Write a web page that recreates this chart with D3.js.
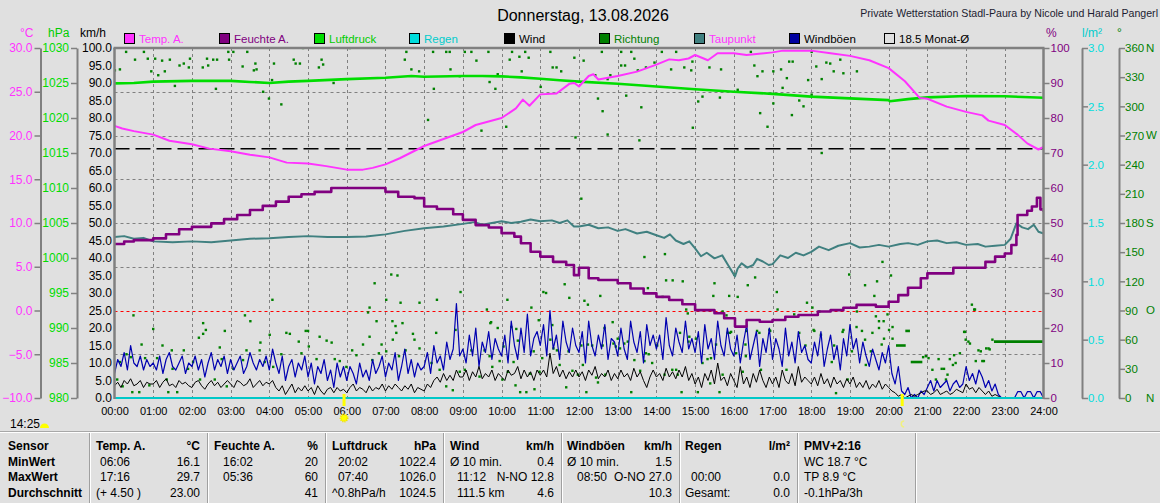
<!DOCTYPE html>
<html>
<head>
<meta charset="utf-8">
<title>Wetterstation Stadl-Paura</title>
<script src="https://cdn.jsdelivr.net/npm/d3@7/dist/d3.min.js"></script>
<style>
  body { margin:0; background:#e0e0e0; }
  svg { display:block; font-family:"Liberation Sans", Arial, sans-serif; }
</style>
</head>
<body>
<script>
// ---------- tick labels ----------
var hourTicks  = [0,1,2,3,4,5,6,7,8,9,10,11,12,13,14,15,16,17,18,19,20,21,22,23,24];
var tempTicks  = [-10,-5,0,5,10,15,20,25,30];
var pressTicks = [980,985,990,995,1000,1005,1010,1015,1020,1025,1030];
var speedTicks = [0,5,10,15,20,25,30,35,40,45,50,55,60,65,70,75,80,85,90,95,100];
var humTicks   = [0,10,20,30,40,50,60,70,80,90,100];
var rainTicks  = [0,0.5,1,1.5,2,2.5,3];
var dirTicks   = [0,30,60,90,120,150,180,210,240,270,300,330,360];
var dirLetters = [[0,"N"],[90,"O"],[180,"S"],[270,"W"],[360,"N"]];
var gridTemps  = [-5,5,10,15,20,25];
var frostTemp  = 0;
var monthAvg   = 18.5;
var sunTimes   = [5.93, 20.35];   // Sonnenaufgang 05:56, Sonnenuntergang 20:21
var dayLength  = "14:25";

// ---------- series: [Stunde, Wert] ----------
var tempData = [[0,21.1],[0.2,20.8],[0.5,20.5],[1,20.1],[1.42,19.4],[2,19.0],[2.45,18.5],[3,18.2],[3.5,17.8],[4,17.5],[4.45,16.9],[5,16.8],[5.47,16.5],[6,16.1],[6.42,16.1],[6.67,16.3],[7,16.7],[7.37,17.4],[8,18.8],[8.5,19.6],[9,20.4],[9.33,21.2],[10,22.0],[10.37,23.1],[10.55,24.1],[10.72,23.4],[11,24.7],[11.42,24.8],[11.75,25.9],[11.88,26.0],[12,25.6],[12.25,26.8],[12.37,27.0],[12.5,26.4],[13,26.8],[13.5,27.3],[14,28.1],[14.33,28.7],[14.58,28.6],[14.83,28.8],[15,29.2],[15.33,28.6],[15.58,29.4],[16,29.4],[16.33,29.2],[17,29.5],[17.27,29.7],[18,29.7],[18.5,29.4],[19,29.1],[19.5,28.6],[20,27.7],[20.42,26.2],[20.8,24.3],[21,24.2],[21.5,23.3],[22,22.7],[22.42,22.3],[22.58,21.7],[23,21.2],[23.33,20.1],[23.58,19.1],[23.87,18.4],[24,18.7]];

var humData = [[0,44.0],[0.25,44.7],[0.5,45.1],[1,45.6],[1.33,46.8],[1.67,48.2],[2,48.9],[2.5,49.9],[2.83,51.1],[3.17,52.3],[3.5,53.7],[3.83,54.9],[4.17,56.1],[4.5,57.5],[4.83,58.2],[5.17,58.9],[5.6,60],[6.9,60],[7,58.9],[7.33,57.5],[7.75,57.1],[8,54.7],[8.33,54.0],[8.75,52.5],[9,50.9],[9.33,49.4],[9.67,48.7],[10,47.1],[10.33,46.1],[10.5,44.2],[10.75,41.8],[11,40.4],[11.33,38.9],[11.67,38.0],[11.87,35.1],[12,37.2],[12.25,34.2],[12.5,33.7],[13,32.8],[13.33,31.3],[13.67,29.9],[14,28.9],[14.33,28.0],[14.67,26.8],[15,25.1],[15.5,24.2],[15.75,22.8],[16.03,20.4],[16.33,22.3],[16.67,21.8],[17,22.3],[17.33,23.2],[17.67,23.7],[18,23.7],[18.17,24.7],[18.5,25.1],[18.83,25.8],[19.17,26.6],[19.67,26.1],[20,27.5],[20.25,29.4],[20.5,31.5],[20.83,34.2],[21,35.6],[21.33,35.6],[21.67,37.2],[22.25,37.2],[22.5,38.9],[22.75,40.4],[23,41.3],[23.17,43.7],[23.3,46.6],[23.33,52.3],[23.58,53.5],[23.7,54.7],[23.83,57.2],[23.92,53.9],[24,53.2]];

var pressData = [[0,1024.95],[0.5,1025.0],[1,1025.2],[2,1025.3],[3,1025.3],[3.5,1025.15],[4,1025.0],[4.5,1025.2],[5,1025.3],[6,1025.55],[7,1025.75],[7.67,1026.0],[8,1025.9],[9,1026.0],[9.5,1026.0],[10,1025.95],[10.5,1025.8],[11,1025.6],[11.5,1025.4],[12,1025.2],[13,1024.9],[14,1024.5],[15,1024.1],[16,1023.75],[17,1023.45],[18,1023.05],[19,1022.8],[20,1022.55],[20.03,1022.4],[20.5,1022.7],[21,1022.95],[22,1023.15],[23,1023.1],[24,1022.9]];

var dewData = [[0,8.4],[0.25,8.5],[0.5,8.2],[0.75,8.3],[1,7.9],[1.5,7.8],[2,7.9],[2.5,7.8],[3,8.0],[3.5,8.2],[4,8.25],[4.5,8.4],[5,8.5],[5.5,8.4],[6,8.4],[6.5,8.45],[7,8.7],[7.5,9.1],[8,9.4],[8.5,9.6],[9,9.9],[9.3,10.1],[9.5,9.8],[10,10.2],[10.25,10.0],[10.5,10.15],[10.75,10.4],[11,10.2],[11.3,10.3],[11.5,10.0],[11.7,10.3],[11.87,9.6],[12,9.6],[12.25,9.8],[12.5,9.4],[12.75,9.5],[13,9.1],[13.2,9.3],[13.5,8.8],[13.75,9.0],[14,8.6],[14.2,8.3],[14.35,8.7],[14.5,8.0],[14.7,7.6],[14.85,7.9],[15,7.1],[15.15,6.2],[15.3,6.6],[15.5,5.96],[15.7,6.3],[15.85,5.2],[16.03,3.9],[16.1,4.8],[16.2,5.4],[16.35,4.9],[16.5,5.2],[16.6,5.9],[16.75,5.6],[16.9,5.2],[17,5.3],[17.2,6.3],[17.4,6.0],[17.6,6.6],[17.8,6.3],[18,6.7],[18.2,7.3],[18.45,6.9],[18.7,7.4],[19,7.7],[19.25,7.2],[19.5,7.3],[19.75,7.5],[20,7.3],[20.3,7.6],[20.5,7.7],[20.75,7.5],[21,7.9],[21.25,8.0],[21.5,7.7],[21.75,7.8],[22,7.5],[22.3,7.6],[22.5,7.3],[22.75,7.4],[23,7.5],[23.15,8.2],[23.3,9.96],[23.45,9.5],[23.6,9.3],[23.75,9.8],[23.87,9.0],[24,8.8]];

var rainData = [[0,0],[24,0]];

// Wind und Böen, alle 5 Minuten (12 Werte je Stunde), km/h
var gustData = [
  7,11,9,13,8,15,10,9,12,8,11,9,
  10,8,12,7,11,13,9,8,10,12,7,10,
  9,12,8,11,6,10,13,8,11,9,12,7,
  11,8,10,12,7,9,13,10,8,11,9,12,
  8,14,10,7,12,5,9,11,6,10,8,12,
  6,10,4,9,7,11,5,8,3,10,6,9,
  5,9,7,4,10,6,8,5,11,7,9,12,
  6,10,8,13,5,9,14,7,11,6,10,8,
  9,13,7,15,10,12,8,16,11,14,27,12,
  14,10,18,12,20,9,16,13,19,11,17,14,
  12,18,10,22,15,11,20,13,24,12,17,19,
  15,21,12,25,14,18,11,22,16,13,20,15,
  13,19,10,22,15,12,18,14,21,11,17,16,
  12,20,14,11,22,16,13,19,10,21,15,18,
  14,18,11,23,15,12,20,16,13,22,14,17,
  13,19,10,21,14,17,11,22,15,12,20,14,
  12,18,10,16,21,11,15,19,9,17,13,20,
  11,17,14,9,20,12,16,10,19,13,15,11,
  10,16,12,19,9,14,18,11,15,8,17,12,
  21,14,17,10,16,12,9,14,11,8,13,10,
  15,7,4,9,2,1,3,0,1,0,2,1,
  3,5,2,5,3,4,5,2,4,5,3,4,
  9,5,7,4,8,6,3,5,2,4,1,0,
  0,0,0,0,1.8,1.8,0,1.8,1.8,0,1.8,1.8,
  0];
var windData = [
  3.5,4.5,3,5,4,5.5,3.5,4,5,3,4.5,4,
  4,5,3,4.5,5.5,3.5,4,3,5,4,4.5,3.5,
  3,4.5,5,3.5,2.5,4,5,3.5,4.5,3,4,5,
  4,3,5,4.5,3.5,4,5.5,3,4,5,3.5,4.5,
  4,5,3,2,3.5,1,2.5,4,1.5,3,2,3.5,
  2,3,1,3.5,2,1,2.5,3,1.5,3,2,2.5,
  1.5,3,4,2,3,2.5,1.5,3.5,2,3,2.5,4,
  2,3.5,2.5,4,3,2,3.5,2.5,4,1.5,3,2.5,
  2,4,3,5,6,4.5,7,5,6.5,5,8,6,
  6,8,5,7.5,6,9,5.5,7,6,8,5,7,
  6,5,8,6.5,7,9,5.5,8,6,7.5,5,8,
  6.5,8,6,12.8,7,9,6,8,5.5,7.5,6,8,
  6,7.5,5,8,6.5,9,5.5,7,6,8,5,7,
  5.5,8,6,7,5,8.5,6,7.5,5,3,6,8,
  6,7,5,8.5,6,7.5,5.5,8,6,9,5,7,
  4,6,3,7,5,8,4,10,5,6,3.5,7,
  5,3,9,4,6,3,7,4.5,8,5,3,6,
  4,6,3,8,5,4,7,3.5,9,4.5,6,5,
  4,6,3.5,7,4,5.5,3,6,4,5,3,5.5,
  4,6,3,4.5,3,5,2.5,4,3,5,2.5,4,
  3,2,1.5,0.5,1,0,0.5,1,0.5,1,1.5,2,
  2,1,1.5,2.5,1,1.5,2,1,1.5,2.5,2,1.5,
  4,2.5,3,1.5,3,2,1,2,0.5,1,0.5,0,
  0,0,0,0,0,0,0,0,0,0,0,0,
  0];

// Windrichtung: [Stunde, Grad]
var dirData = [
  [0.01,337],[0.14,338],[0.30,356],[0.53,348],[0.76,356],[0.86,349],[0.95,336],[1.05,349],[1.13,332],[1.23,347],[1.30,336],[1.43,348],[1.56,321],[1.68,342],[1.79,344],[1.92,340],[1.95,349],[2.28,340],[2.39,349],[2.42,342],[2.55,348],[2.62,318],[2.65,348],[2.94,356],[2.96,348],[3.07,356],[3.31,341],[3.43,356],[3.60,337],[3.64,344],[3.67,338],[3.84,315],[3.99,308],[4.07,327],[4.12,344],[4.31,302],[4.63,348],[4.68,344],[4.79,344],[4.87,360],[5.28,340],[5.35,348],[5.39,343],[5.66,324],[6.08,360],[7.50,348],[7.54,356],[7.67,338],[7.87,336],[8.10,286],[8.23,356],[8.25,318],[8.57,356],[8.66,356],[8.68,338],[8.92,331],[9.05,356],[9.22,356],[9.35,347],[9.48,275],[9.66,356],[9.69,325],[9.84,318],[9.90,333],[10.12,279],[10.21,348],[10.27,356],[10.46,351],[10.52,336],[10.61,356],[10.70,350],[11.01,320],[11.26,356],[11.32,340],[11.42,340],[11.54,336],[11.88,350],[11.91,268],
  [12.06,205],[12.12,347],[12.42,332],[12.49,308],[12.59,356],[12.61,295],[12.74,328],[12.74,271],[12.81,332],[13.09,356],[13.09,342],[13.19,342],[13.22,311],[13.35,356],[13.43,349],[13.52,337],[13.56,265],[13.61,299],[13.73,340],[13.95,345],[14.14,356],[14.38,338],[14.51,356],[14.72,340],[14.90,337],[14.93,346],[14.94,278],[15.08,305],[15.19,310],[15.37,340],[15.64,309],[15.67,338],[16.10,317],[16.44,356],[16.53,342],[16.61,331],[16.68,293],[16.74,336],[16.87,279],[17.02,336],[17.02,303],[17.22,338],[17.26,319],[17.37,329],[17.43,346],[17.50,291],[17.52,346],[17.69,306],[17.80,300],[17.92,327],[18.01,356],[18.01,312],[18.13,341],[18.27,328],[18.27,252],[18.39,345],[18.49,344],[18.58,336],[18.75,348],[18.83,334],[19.18,336],
  [0.07,19],[0.14,37],[0.21,12],[0.31,45],[0.42,42],[0.46,6],[0.49,85],[0.64,6],[0.70,55],[0.79,41],[0.90,13],[1.00,71],[1.10,41],[1.24,54],[1.35,19],[1.39,6],[1.48,49],[1.50,30],[1.62,6],[1.79,49],[1.90,30],[2.03,37],[2.18,62],[2.21,19],[2.29,66],[2.29,77],[2.36,70],[2.59,19],[2.72,52],[2.77,40],[2.85,69],[2.90,12],[3.07,30],[3.32,39],[3.37,85],[3.41,49],[3.51,79],[3.75,49],[3.77,57],[3.88,37],[4.01,65],[4.08,101],[4.10,32],[4.31,45],[4.44,67],[4.53,66],[4.76,58],[4.83,46],[4.94,69],[5.00,69],[5.02,53],[5.22,40],[5.30,63],[5.48,59],[5.61,57],[5.69,40],[5.82,38],[5.99,32],[6.14,49],[6.25,44],[6.42,55],[6.55,88],[6.59,93],[6.59,63],[6.66,39],[6.72,118],[6.77,79],[6.83,46],[6.90,55],[7.02,48],[7.02,101],[7.15,127],[7.18,79],[7.19,60],[7.26,74],[7.28,67],[7.31,126],[7.35,43],[7.39,98],[7.44,77],[7.52,49],[7.71,66],[7.75,60],[7.88,51],[7.88,98],[8.19,36],[8.31,67],[8.33,101],[8.40,29],[8.57,12],[8.74,8],[8.81,70],[8.92,27],[8.94,109],[9.05,29],[9.22,49],[9.43,22],[9.56,49],[9.62,91],[9.69,43],[9.71,77],[9.73,78],[9.76,32],[9.90,72],[9.95,38],
  [10.02,19],[10.05,53],[10.15,101],[10.16,27],[10.25,73],[10.31,37],[10.36,13],[10.38,71],[10.42,59],[10.48,6],[10.64,6],[10.73,25],[10.77,93],[10.83,48],[10.85,9],[10.96,80],[10.98,27],[11.05,41],[11.08,109],[11.15,108],[11.26,60],[11.31,75],[11.34,51],[11.43,49],[11.50,34],[11.63,117],[11.67,11],[11.73,48],[11.75,103],[11.83,28],[11.97,24],[12.06,54],[12.10,34],[12.14,100],[12.19,6],[12.23,55],[12.23,96],[12.34,54],[12.44,21],[12.49,16],[12.55,105],[12.61,54],[12.66,72],[12.68,24],[12.87,78],[12.89,56],[12.95,53],[13.00,61],[13.06,51],[13.17,56],[13.26,58],[13.35,6],[13.43,39],[13.58,28],[13.69,38],[13.69,145],[13.73,46],[13.78,113],[13.80,45],[13.89,36],[14.02,54],[14.16,104],[14.21,24],[14.22,148],[14.25,121],[14.41,29],[14.42,121],[14.51,29],[14.55,24],[14.61,67],[14.65,6],[14.68,120],[14.77,91],[14.81,87],[14.83,58],[14.85,63],[15.02,61],[15.07,6],[15.19,36],[15.32,40],[15.39,15],[15.41,41],[15.47,105],[15.50,118],[15.54,55],[15.63,6],[15.71,89],[15.71,24],[15.81,85],[15.84,67],[15.88,105],[15.90,67],[15.93,68],
  [16.01,127],[16.06,46],[16.10,104],[16.23,27],[16.30,55],[16.31,43],[16.32,69],[16.36,116],[16.55,124],[16.60,69],[16.66,67],[16.70,29],[16.92,70],[16.94,69],[17.11,109],[17.13,91],[17.36,29],[17.56,86],[17.69,67],[17.85,54],[17.89,98],[18.03,93],[18.06,70],[18.08,69],[18.21,89],[18.25,65],[18.53,37],[18.59,54],[18.64,5],[18.81,68],[18.83,70],[18.94,19],[18.98,127],[19.05,48],[19.17,73],[19.18,89],[19.31,69],[19.39,60],[19.39,116],[19.41,34],[19.54,48],[19.58,67],[19.63,105],[19.67,84],[19.70,120],[19.75,72],[19.75,79],[19.82,55],[19.84,140],[19.87,79],[19.88,61],[19.97,86],[20.01,70],[20.06,126],[20.10,61],[20.10,73],
  [20.89,42],[20.96,43],[21.03,41],[21.13,29],[21.22,19],[21.29,40],[21.37,30],[21.43,30],[21.48,19],[21.52,24],[21.58,40],[21.66,34],[21.69,44],[21.73,36],[21.84,46],[21.95,68],[21.97,68],[21.99,60],[22.06,58],[22.10,56],[22.15,96],[22.21,91],[22.23,91],[22.25,38],[22.32,49],[22.38,48],[22.42,38],[22.46,38],[22.52,51],[22.58,51],[22.61,50],[22.68,60]];
// gleichbleibende Richtung bei Flaute: [von, bis, Grad]
var dirRuns = [[20.19,20.44,54],[20.43,20.55,69],[20.57,20.87,37],[22.72,24.0,58]];

// ---------- legend ----------
var legendNames = ["Temp. A.","Feuchte A.","Luftdruck","Regen","Wind","Richtung","Taupunkt","Windböen","18.5 Monat-Ø"];
var legendBox   = ["#ff33ff","#800080","#00dd00","#00dddd","#000000","#008000","#408080","#0000a0","none"];
var legendText  = ["#ff33ff","#800080","#00cc00","#00cccc","#000000","#008000","#ff33ff","#000000","#000000"];

// ---------- table ----------
var sensorCol = ["Sensor","MinWert","MaxWert","Durchschnitt"];
var colTemp  = [["Temp. A.","°C"],["06:06","16.1"],["17:16","29.7"],["(+ 4.50 )","23.00"]];
var colHum   = [["Feuchte A.","%"],["16:02","20"],["05:36","60"],["","41"]];
var colPress = [["Luftdruck","hPa"],["20:02","1022.4"],["07:40","1026.0"],["^0.8hPa/h","1024.5"]];
var colWind  = [["Wind","km/h"],["Ø 10 min.","0.4"],["11:12","N-NO 12.8"],["111.5 km","4.6"]];
var colGust  = [["Windböen","km/h"],["Ø 10 min.","1.5"],["08:50","O-NO 27.0"],["","10.3"]];
var colRain  = [["Regen","l/m²"],["",""],["00:00","0.0"],["Gesamt:","0.0"]];
var colPmv   = [["PMV+2:16",""],["WC 18.7 °C",""],["TP 8.9 °C",""],["-0.1hPa/3h",""]];
var tableCols = [colTemp,colHum,colPress,colWind,colGust,colRain,colPmv];
var colIndent = [[7,11,11,7],[7,16,16,7],[7,13,13,7],[7,7,14,14],[6,6,16,6],[6,6,12,6],[7,7,7,7]];

// ---------- drawing ----------
var W = 1160, H = 503;
var P = {left:114.5, right:1043.5, top:48, bottom:398};
var svg = d3.select('body').append('svg').attr('width',W).attr('height',H);
svg.append('rect').attr('width',W).attr('height',H).attr('fill','#e0e0e0');

var x  = d3.scaleLinear().domain([0,24]).range([P.left,P.right]);
var yT = d3.scaleLinear().domain([-10,30]).range([P.bottom,P.top]);
var yP = d3.scaleLinear().domain([980,1030]).range([P.bottom,P.top]);
var yK = d3.scaleLinear().domain([0,100]).range([P.bottom,P.top]);
var yH = d3.scaleLinear().domain([0,100]).range([P.bottom,P.top]);
var yR = d3.scaleLinear().domain([0,3]).range([P.bottom,P.top]);
var yD = d3.scaleLinear().domain([0,360]).range([P.bottom,P.top]);

// titles
svg.append('text').attr('x',583).attr('y',21).attr('text-anchor','middle')
  .attr('font-size',16).attr('fill','#000').text('Donnerstag, 13.08.2026');
svg.append('text').attr('x',1158).attr('y',17).attr('text-anchor','end')
  .attr('font-size',10.6).attr('fill','#1c1c30').text('Private Wetterstation Stadl-Paura by Nicole und Harald Pangerl');

// unit headers
var units = [[20,'°C','#ff33ff'],[48,'hPa','#00cc00'],[80,'km/h','#000'],[1046,'%','#800080'],[1082,'l/m²','#00cccc'],[1117,'°','#008000']];
units.forEach(function(u){
  svg.append('text').attr('x',u[0]).attr('y',37).attr('font-size',12).attr('fill',u[2]).text(u[1]);
});

// legend
var lg = svg.append('g');
legendNames.forEach(function(n,i){
  var lx = 124 + i*95;
  lg.append('rect').attr('x',lx+0.5).attr('y',33.5).attr('width',10).attr('height',10)
    .attr('fill',legendBox[i]==='none'?'#e0e0e0':legendBox[i]).attr('stroke','#000').attr('stroke-width',1);
  lg.append('text').attr('x',lx+15).attr('y',42.5).attr('font-size',11.5).attr('fill',legendText[i]).text(n);
});

// grid
var grid = svg.append('g');
hourTicks.slice(1,24).forEach(function(h){
  grid.append('line').attr('x1',Math.round(x(h))+0.5).attr('x2',Math.round(x(h))+0.5)
    .attr('y1',P.top).attr('y2',P.bottom).attr('stroke','#808080').attr('stroke-dasharray','3,3');
});
gridTemps.forEach(function(t){
  grid.append('line').attr('x1',P.left).attr('x2',P.right).attr('y1',Math.round(yT(t))+0.5).attr('y2',Math.round(yT(t))+0.5)
    .attr('stroke','#808080').attr('stroke-dasharray','3,3');
});
grid.append('line').attr('x1',P.left).attr('x2',P.right).attr('y1',Math.round(yT(frostTemp))+0.5).attr('y2',Math.round(yT(frostTemp))+0.5)
  .attr('stroke','#ff0000').attr('stroke-dasharray','3,3');

// clip
svg.append('clipPath').attr('id','clip').append('rect')
  .attr('x',P.left).attr('y',P.top).attr('width',P.right-P.left).attr('height',P.bottom-P.top+2);
var g = svg.append('g').attr('clip-path','url(#clip)');

// direction dots
g.selectAll('rect.dir').data(dirData).enter().append('rect').attr('class','dir')
  .attr('x',function(d){return x(d[0])-1.2;}).attr('y',function(d){return yD(d[1])-1.2;})
  .attr('width',2.4).attr('height',2.4).attr('fill','#008000');
g.selectAll('line.run').data(dirRuns).enter().append('line').attr('class','run')
  .attr('x1',function(d){return x(d[0]);}).attr('x2',function(d){return x(d[1]);})
  .attr('y1',function(d){return yD(d[2]);}).attr('y2',function(d){return yD(d[2]);})
  .attr('stroke','#008000').attr('stroke-width',2.6);

function path(data, ys, color, w, curve){
  var ln = d3.line().x(function(d){return x(d[0]);}).y(function(d){return ys(d[1]);});
  if (curve) ln.curve(curve);
  g.append('path').datum(data).attr('d',ln).attr('fill','none')
    .attr('stroke',color).attr('stroke-width',w).attr('stroke-linejoin','round');
}
var gustPts = gustData.map(function(v,i){return [i/12,v];});
var windPts = windData.map(function(v,i){return [i/12,v];});

path(gustPts, yK, '#0000b0', 1.2);
path(windPts, yK, '#000000', 1);
path(dewData, yT, '#408080', 2);
path(humData, yH, '#800080', 2.6, d3.curveStepAfter);
path(pressData, yP, '#00dd00', 2.6);
// Monatsmittel
g.append('line').attr('x1',P.left).attr('x2',P.right).attr('y1',yT(monthAvg)).attr('y2',yT(monthAvg))
  .attr('stroke','#000').attr('stroke-width',1.5).attr('stroke-dasharray','15,6');
path(tempData, yT, '#ff33ff', 2);
path(rainData, yR, '#00c8c8', 2);

// plot frame
svg.append('line').attr('x1',P.left-1).attr('x2',P.right+1).attr('y1',P.top).attr('y2',P.top).attr('stroke','#808080').attr('stroke-width',2.5);
svg.append('line').attr('x1',P.left).attr('x2',P.left).attr('y1',P.top).attr('y2',P.bottom+1).attr('stroke','#808080').attr('stroke-width',2.5);
svg.append('line').attr('x1',P.right).attr('x2',P.right).attr('y1',P.top).attr('y2',P.bottom+1).attr('stroke','#808080').attr('stroke-width',2.5);

// axes
function styleAxis(ax, color, showDomain, size){
  ax.attr('font-size',size || 12).attr('font-family','"Liberation Sans", Arial, sans-serif');
  ax.selectAll('text').attr('fill',color);
  ax.selectAll('.tick line').attr('stroke','#808080').attr('stroke-width',1.5);
  if (showDomain) ax.select('.domain').attr('stroke','#808080').attr('stroke-width',2);
  else ax.select('.domain').remove();
}
var f1 = d3.format('.1f');
styleAxis(svg.append('g').attr('transform','translate(40.5,0)')
  .call(d3.axisLeft(yT).tickValues(tempTicks).tickFormat(f1).tickSize(6).tickSizeOuter(0).tickPadding(2)), '#ff33ff', true);
styleAxis(svg.append('g').attr('transform','translate(77,0)')
  .call(d3.axisLeft(yP).tickValues(pressTicks).tickFormat(d3.format('d')).tickSize(6).tickSizeOuter(0).tickPadding(2)), '#00dd00', true);
styleAxis(svg.append('g').attr('transform','translate(113,0)')
  .call(d3.axisLeft(yK).tickValues(speedTicks).tickFormat(f1).tickSize(0).tickPadding(1)), '#000', false);
styleAxis(svg.append('g').attr('transform','translate('+P.right+',0)')
  .call(d3.axisRight(yH).tickValues(humTicks).tickFormat(d3.format('d')).tickSize(6).tickSizeOuter(0).tickPadding(1)), '#800080', false, 11.5);
styleAxis(svg.append('g').attr('transform','translate(1082,0)')
  .call(d3.axisRight(yR).tickValues(rainTicks).tickFormat(f1).tickSize(6).tickSizeOuter(0).tickPadding(0)), '#00dddd', true, 11.5);
styleAxis(svg.append('g').attr('transform','translate(1119,0)')
  .call(d3.axisRight(yD).tickValues(dirTicks).tickFormat(d3.format('d')).tickSize(6).tickSizeOuter(0).tickPadding(0)), '#008000', true, 11.5);
dirLetters.forEach(function(l){
  svg.append('text').attr('x',1146).attr('y',yD(l[0])).attr('dy','0.32em').attr('font-size',11.5)
    .attr('fill','#008000').text(l[1]);
});
var xa = svg.append('g').attr('transform','translate(0,'+P.bottom+')')
  .call(d3.axisBottom(x).tickValues(hourTicks).tickSize(0).tickPadding(9)
    .tickFormat(function(h){return (h<10?'0':'')+h+':00';}));
xa.attr('font-size',11).attr('font-family','"Liberation Sans", Arial, sans-serif');
xa.selectAll('text').attr('fill','#000');
xa.select('.domain').remove();

// sunrise / sunset marks
sunTimes.forEach(function(t){
  svg.append('rect').attr('x',x(t)-1.5).attr('y',394).attr('width',3).attr('height',12).attr('fill','#ffff00');
});
svg.append('circle').attr('cx',x(sunTimes[0])).attr('cy',418).attr('r',3.5).attr('fill','#ffff00').attr('stroke','#f0e000').attr('stroke-dasharray','1,1').attr('stroke-width',2);
svg.append('path').attr('d','M'+(x(sunTimes[1])+2)+',421 a3,3 0 1,0 0,6').attr('fill','none').attr('stroke','#f0f080').attr('stroke-width',1.5);
svg.append('text').attr('x',10).attr('y',428).attr('font-size',12).attr('fill','#000').text(dayLength);
svg.append('path').attr('d','M40,428 a4.5,4.5 0 0,1 9,0 z').attr('fill','#ffff00');

// table
var tb = svg.append('g');
tb.append('line').attr('x1',0).attr('x2',W).attr('y1',431.5).attr('y2',431.5).attr('stroke','#a8a8a8');
tb.append('line').attr('x1',0).attr('x2',W).attr('y1',432.5).attr('y2',432.5).attr('stroke','#ffffff');
var seps = [89,207,325,443,561,679,797,915];
seps.forEach(function(s){
  tb.append('line').attr('x1',s+0.5).attr('x2',s+0.5).attr('y1',433).attr('y2',H).attr('stroke','#a0a0a0');
  tb.append('line').attr('x1',s+1.5).attr('x2',s+1.5).attr('y1',433).attr('y2',H).attr('stroke','#ffffff');
});
var rowY = [450,465.5,481,496.5];
sensorCol.forEach(function(s,r){
  tb.append('text').attr('x',8).attr('y',rowY[r]).attr('font-size',12).attr('font-weight','bold').text(s);
});
tableCols.forEach(function(col,c){
  col.forEach(function(cell,r){
    var bold = r===0 ? 'bold' : 'normal';
    tb.append('text').attr('x',seps[c]+colIndent[c][r]).attr('y',rowY[r]).attr('font-size',12)
      .attr('font-weight',bold).text(cell[0]);
    tb.append('text').attr('x',seps[c+1]-7).attr('y',rowY[r]).attr('font-size',12).attr('text-anchor','end')
      .attr('font-weight',bold).text(cell[1]);
  });
});
</script>
</body>
</html>
